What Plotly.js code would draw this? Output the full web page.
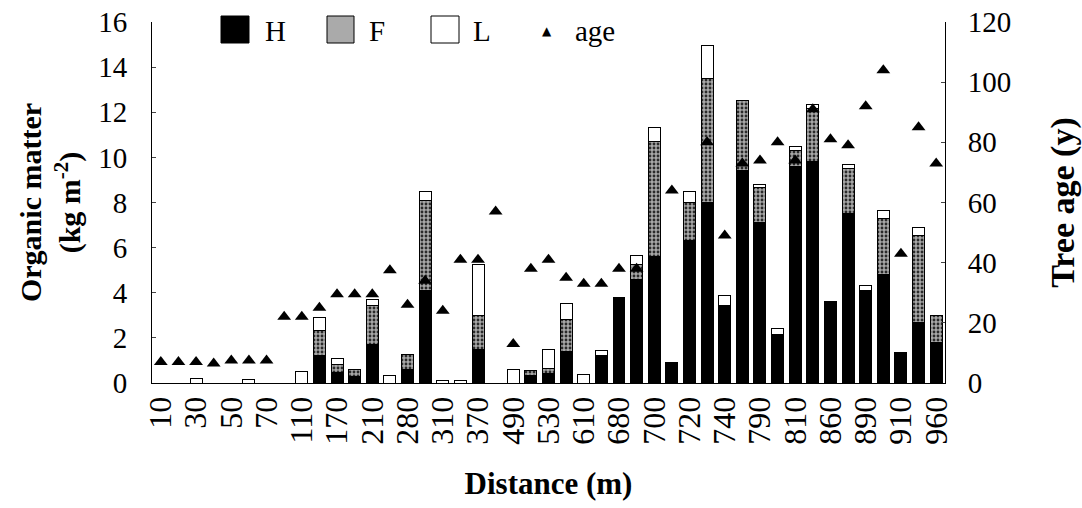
<!DOCTYPE html>
<html>
<head>
<meta charset="utf-8">
<script src="https://cdn.plot.ly/plotly-3.0.1.min.js"></script>
<style>html,body{margin:0;padding:0;background:#fff;}#chart{width:1082px;height:508px;}</style>
</head>
<body>
<div id="chart"></div>
<script>
// Distance categories (m)
const distance = ['10','20','30','40','50','60','70','90','110','140','170','190','210','250','280','290','310','340','370','430','490','510','530','570','610','650','680','690','700','710','720','730','740','760','790','800','810','830','860','870','890','900','910','930','960'];
// Labelled ticks
const tickLabels = ['10','30','50','70','110','170','210','280','310','370','490','530','610','680','700','720','740','790','810','860','890','910','960'];
// Organic matter (kg m-2) by horizon
const H = [0,0,0,0,0,0,0,0,0,1.2,0.45,0.3,1.7,0,0.6,4.1,0,0,1.5,0,0,0.35,0.4,1.4,0,1.23,3.77,4.6,5.6,0.9,6.3,8.0,3.44,9.4,7.1,2.16,9.6,9.8,3.62,7.5,4.08,4.8,1.33,2.7,1.8];
const F = [0,0,0,0,0,0,0,0,0,1.14,0.36,0.31,1.72,0,0.67,4.0,0,0,1.5,0,0,0.2,0.24,1.42,0,0,0,0.65,5.1,0,1.7,5.5,0,3.1,1.55,0,0.7,2.35,0,2.0,0,2.5,0,3.85,1.2];
const L = [0,0,0.2,0,0,0.15,0,0,0.52,0.56,0.27,0,0.28,0.34,0,0.37,0.1,0.1,2.26,0,0.62,0,0.84,0.7,0.38,0.19,0,0.38,0.64,0,0.49,1.48,0.43,0,0.15,0.25,0.2,0.2,0,0.18,0.22,0.33,0,0.34,0];
// Tree age (y)
const age = [7,7,7,6.5,7.5,7.5,7.5,22,22,25,29.5,29.5,29.5,37.5,26,34,24,41,41,57,13,38,41,35,33,33,38,38,null,64,null,80,49,73,74,80,74,91,81,79,92,104,43,85,73];

const serif = 'Liberation Serif';
const outline = {color:'#000', width:1};

const traces = [
  {type:'bar', name:'H', x:distance, y:H, marker:{color:'#000', line:outline}},
  {type:'bar', name:'F', x:distance, y:F, marker:{color:'#9a9a9a', line:outline,
     pattern:{shape:'.', fgcolor:'#2a2a2a', bgcolor:'#a8a8a8', size:4, solidity:0.4}}},
  {type:'bar', name:'L', x:distance, y:L, marker:{color:'#fff', line:outline}},
  {type:'scatter', mode:'markers', name:'age', x:distance, y:age, yaxis:'y2',
     marker:{symbol:'triangle-up', color:'#000', size:12}}
];

// custom legend (pixel -> paper)
const L0 = 152, R0 = 945, T0 = 22, B0 = 383;
const px = v => (v - L0) / (R0 - L0);
const py = v => (B0 - v) / (B0 - T0);
const shapes = [
  {type:'rect', xref:'paper', yref:'paper', x0:px(221), x1:px(249), y0:py(43), y1:py(16), fillcolor:'#000', line:{color:'#000',width:1}},
  {type:'rect', xref:'paper', yref:'paper', x0:px(327), x1:px(354), y0:py(43), y1:py(16), fillcolor:'#aaaaaa', line:{color:'#000',width:1}},
  {type:'rect', xref:'paper', yref:'paper', x0:px(431), x1:px(459), y0:py(43), y1:py(16), fillcolor:'#fff', line:{color:'#000',width:1}}
];
const legFont = {family:serif, size:29, color:'#000'};
const annotations = [
  {xref:'paper', yref:'paper', x:px(263), y:py(31), text:'H', showarrow:false, xanchor:'left', yanchor:'middle', font:legFont},
  {xref:'paper', yref:'paper', x:px(367), y:py(31), text:'F', showarrow:false, xanchor:'left', yanchor:'middle', font:legFont},
  {xref:'paper', yref:'paper', x:px(471), y:py(31), text:'L', showarrow:false, xanchor:'left', yanchor:'middle', font:legFont},
  {xref:'paper', yref:'paper', x:px(547), y:py(31), text:'▲', showarrow:false, xanchor:'center', yanchor:'middle', font:{family:'DejaVu Sans', size:12, color:'#000'}},
  {xref:'paper', yref:'paper', x:px(573), y:py(31), text:'age', showarrow:false, xanchor:'left', yanchor:'middle', font:legFont}
];

const layout = {
  width:1082, height:508,
  margin:{l:L0, r:1082-R0, t:T0, b:508-B0, pad:0},
  paper_bgcolor:'#fff', plot_bgcolor:'#fff',
  barmode:'stack', bargap:0.32,
  showlegend:false,
  font:{family:serif, color:'#000'},
  xaxis:{type:'category', categoryorder:'array', categoryarray:distance, range:[-0.5, 44.5],
    tickmode:'array', tickvals:tickLabels, ticktext:tickLabels, tickangle:-90,
    tickfont:{family:serif, size:32}, ticks:'', showline:true, linecolor:'#000', linewidth:1,
    showgrid:false, zeroline:false,
    title:{text:'<b>Distance (m)</b>', font:{family:serif, size:31}, standoff:28}},
  yaxis:{range:[0,16], dtick:2, tickfont:{family:serif, size:29}, ticks:'inside', ticklen:4,
    showline:true, linecolor:'#000', linewidth:1, showgrid:false, zeroline:false,
    ticklabelstandoff:18,
    title:{text:'<b>Organic matter<br>(kg m<sup>-2</sup>)</b>', font:{family:serif, size:30}, standoff:8}},
  yaxis2:{range:[0,120], dtick:20, overlaying:'y', side:'right', tickfont:{family:serif, size:29},
    ticks:'inside', ticklen:4, showline:true, linecolor:'#000', linewidth:1, showgrid:false, zeroline:false,
    ticklabelstandoff:16,
    title:{text:'<b>Tree age (y)</b>', font:{family:serif, size:34}, standoff:40}},
  shapes:shapes, annotations:annotations
};

Plotly.newPlot('chart', traces, layout, {displayModeBar:false, staticPlot:true});
</script>
</body>
</html>
